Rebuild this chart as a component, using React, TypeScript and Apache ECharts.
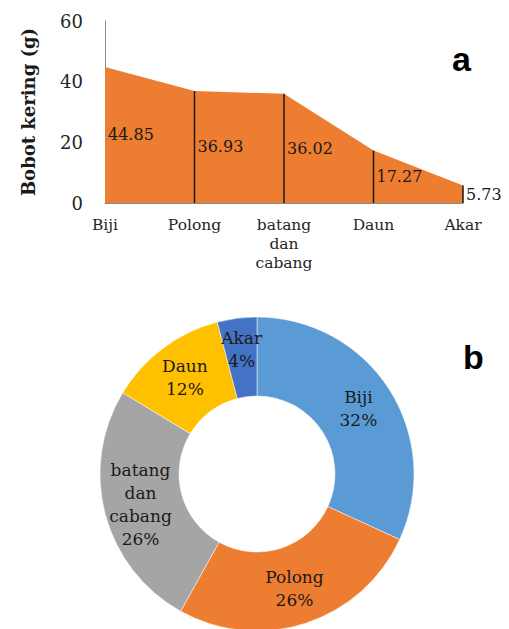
import React, { useEffect, useRef } from "react";
import * as echarts from "echarts";

const categories = ["Biji", "Polong", "batang dan cabang", "Daun", "Akar"];
const values = [44.85, 36.93, 36.02, 17.27, 5.73];
const yTicks = { min: 0, max: 60, interval: 20 };
const pieColors = ["#5B9BD5", "#ED7D31", "#A5A5A5", "#FFC000", "#4472C4"];

const SERIF = "'DejaVu Serif', 'Liberation Serif', serif";

export default function App() {
  const ref = useRef<HTMLDivElement>(null);
  useEffect(() => {
    if (!ref.current) return;
    const chart = echarts.init(ref.current, undefined, { renderer: "svg" });
    const option: any = {
      animation: false,
      backgroundColor: "#ffffff",
      grid: { left: 105, right: 46, top: 21, height: 182 },
      xAxis: {
        type: "category",
        data: categories,
        boundaryGap: false,
        axisLine: { show: true, lineStyle: { color: "#8c8c8c", width: 1 } },
        axisTick: { show: false },
        axisLabel: {
          margin: 12,
          color: "#262626",
          fontFamily: SERIF,
          fontSize: 15.5,
          lineHeight: 19,
          interval: 0,
          formatter: (v: string) => v.split(" ").join("\n"),
        },
      },
      yAxis: {
        type: "value",
        min: yTicks.min,
        max: yTicks.max,
        interval: yTicks.interval,
        name: "Bobot kering (g)",
        nameLocation: "middle",
        nameGap: 68,
        nameTextStyle: { fontFamily: SERIF, fontSize: 18, fontWeight: "bold", color: "#1a1a1a" },
        axisLine: { show: true, lineStyle: { color: "#8c8c8c", width: 1 } },
        axisTick: { show: false },
        splitLine: { show: false },
        axisLabel: { margin: 22, color: "#262626", fontFamily: SERIF, fontSize: 18 },
      },
      series: [
        {
          type: "line",
          data: values,
          symbol: "none",
          lineStyle: { width: 0 },
          areaStyle: { color: "#ED7D31", opacity: 1 },
          z: 1,
        },
        {
          type: "custom",
          data: values.map((v, i) => [i, v]),
          z: 3,
          renderItem: (params: any, api: any) => {
            const i = api.value(0);
            const v = api.value(1);
            const top = api.coord([i, v]);
            const base = api.coord([i, 0]);
            const mid = api.coord([i, v / 2]);
            const children: any[] = [];
            if (i > 0) {
              children.push({
                type: "line",
                shape: { x1: top[0], y1: top[1], x2: base[0], y2: base[1] },
                style: { stroke: "#1a1a1a", lineWidth: 1.5 },
              });
            }
            children.push({
              type: "text",
              x: mid[0] + 3,
              y: mid[1],
              style: {
                text: v.toFixed(2),
                fill: "#1a1a1a",
                font: `16px ${SERIF}`,
                align: "left",
                verticalAlign: "middle",
              },
            });
            return { type: "group", children };
          },
        },
        {
          type: "pie",
          center: [257, 474],
          radius: [78, 157],
          startAngle: 90,
          clockwise: true,
          data: categories.map((c, i) => ({
            name: c,
            value: values[i],
            itemStyle: { color: pieColors[i] },
            label: i === 4 ? { offset: [0, -5] } : undefined,
          })),
          itemStyle: { borderColor: "#ffffff", borderWidth: 0.5 },
          label: {
            show: true,
            position: "inside",
            color: "#1a1a1a",
            fontFamily: SERIF,
            fontSize: 17,
            lineHeight: 23,
            formatter: (p: any) => `${p.name.split(" ").join("\n")}\n${Math.round(p.percent)}%`,
          },
          labelLine: { show: false },
          emphasis: { disabled: true },
        },
      ],
      graphic: [
        {
          type: "text",
          left: 452,
          top: 42,
          style: { text: "a", font: "bold 34px 'Liberation Sans', Arial, sans-serif", fill: "#000" },
        },
        {
          type: "text",
          left: 463,
          top: 340,
          style: { text: "b", font: "bold 34px 'Liberation Sans', Arial, sans-serif", fill: "#000" },
        },
      ],
    };
    chart.setOption(option);
    return () => chart.dispose();
  }, []);
  return (
    <div
      ref={ref}
      style={{ position: "fixed", left: 0, top: 0, width: 509, height: 629, background: "#fff" }}
    />
  );
}
